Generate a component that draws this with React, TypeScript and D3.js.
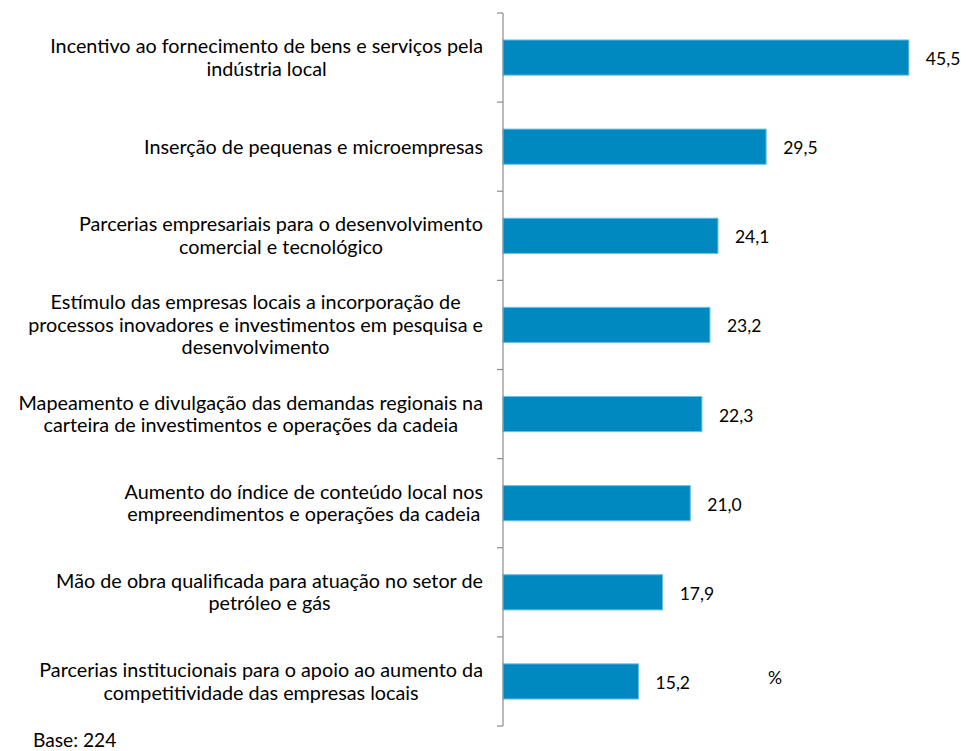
import { useEffect, useRef } from 'react'
import * as d3 from 'd3'

const categories: string[][] = [
  ['Incentivo ao fornecimento de bens e serviços pela', 'indústria local'],
  ['Inserção de pequenas e microempresas'],
  ['Parcerias empresariais para o desenvolvimento', 'comercial e tecnológico'],
  [
    'Estímulo das empresas locais a incorporação de',
    'processos inovadores e investimentos em pesquisa e',
    'desenvolvimento',
  ],
  ['Mapeamento e divulgação das demandas regionais na', 'carteira de investimentos e operações da cadeia'],
  ['Aumento do índice de conteúdo local nos', 'empreendimentos e operações da cadeia'],
  ['Mão de obra qualificada para atuação no setor de', 'petróleo e gás'],
  ['Parcerias institucionais para o apoio ao aumento da', 'competitividade das empresas locais'],
]
const values = [45.5, 29.5, 24.1, 23.2, 22.3, 21.0, 17.9, 15.2]

const W = 966
const H = 751
const FONT = 'Lato, "Open Sans", sans-serif'

export default function App() {
  const svgRef = useRef<SVGSVGElement>(null)

  useEffect(() => {
    if (!svgRef.current) return
    const svg = d3.select(svgRef.current)
    svg.selectAll('*').remove()

    const axisX = 503
    const labelRight = 483

    const x = d3.scaleLinear().domain([0, 50]).range([axisX, axisX + 446])
    const y = d3
      .scaleBand<number>()
      .domain(d3.range(categories.length))
      .range([13, 726])
      .padding(0)

    const barH = y.bandwidth() * 0.395
    const g = svg.append('g')

    // bars
    g.selectAll('rect.bar')
      .data(values)
      .join('rect')
      .attr('class', 'bar')
      .attr('x', x(0))
      .attr('y', (_, i) => y(i)! + y.bandwidth() / 2 - barH / 2)
      .attr('width', d => x(d) - x(0))
      .attr('height', barH)
      .attr('fill', '#0088c0')
      .attr('stroke', '#6ec0ea')
      .attr('stroke-width', 1)

    // value labels
    g.selectAll('text.val')
      .data(values)
      .join('text')
      .attr('class', 'val')
      .attr('x', d => x(d) + 17)
      .attr('y', (_, i) => y(i)! + y.bandwidth() / 2 + 7.5)
      .attr('font-family', FONT)
      .attr('font-size', 17.5)
      .attr('fill', '#000')
      .text(d => d.toFixed(1).replace('.', ','))

    // axis line and ticks
    const tickYs = d3.range(categories.length + 1).map(i => 13 + i * y.step())
    g.append('line')
      .attr('x1', axisX)
      .attr('x2', axisX)
      .attr('y1', tickYs[0])
      .attr('y2', tickYs[tickYs.length - 1])
      .attr('stroke', '#8c8c8c')
      .attr('stroke-width', 1.2)
    g.selectAll('line.tick')
      .data(tickYs)
      .join('line')
      .attr('class', 'tick')
      .attr('x1', axisX - 6)
      .attr('x2', axisX)
      .attr('y1', d => d)
      .attr('y2', d => d)
      .attr('stroke', '#8c8c8c')
      .attr('stroke-width', 1.2)

    // category labels: centered block, right-aligned to the axis
    const lineH = 22.5
    categories.forEach((lines, i) => {
      const cy = y(i)! + y.bandwidth() / 2
      const t = g
        .append('text')
        .attr('font-family', FONT)
        .attr('font-size', 19.8)
        .attr('fill', '#000')
        .attr('text-anchor', 'middle')
      const spans = lines.map((l, k) =>
        t
          .append('tspan')
          .attr('y', cy + (k - (lines.length - 1) / 2) * lineH)
          .attr('dy', '0.35em')
          .text(l)
      )
      const maxW = d3.max(spans, s => (s.node() as SVGTSpanElement).getComputedTextLength()) || 0
      spans.forEach(s => s.attr('x', labelRight - maxW / 2))
    })

    g.append('text')
      .attr('x', 768)
      .attr('y', 684)
      .attr('font-family', FONT)
      .attr('font-size', 17.5)
      .text('%')

    g.append('text')
      .attr('x', 33)
      .attr('y', 747)
      .attr('font-family', FONT)
      .attr('font-size', 19.2)
      .text('Base: 224')
  }, [])

  return <svg ref={svgRef} width={W} height={H} style={{ display: 'block', position: 'absolute', left: 0, top: 0 }} />
}
